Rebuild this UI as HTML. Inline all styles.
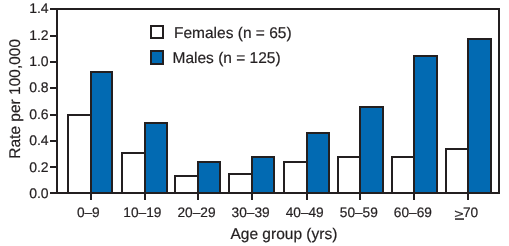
<!DOCTYPE html>
<html><head><meta charset="utf-8"><style>
html,body{margin:0;padding:0;background:#fff;}
svg{position:absolute;left:0;top:0;will-change:transform;}
text{font-family:"Liberation Sans",sans-serif;fill:#231f20;text-rendering:geometricPrecision;stroke:#231f20;stroke-width:0.2px;}
</style></head><body>
<svg width="509" height="246" viewBox="0 0 509 246">
<rect width="509" height="246" fill="#fff"/>
<rect x="68" y="115" width="23.00" height="78.00" fill="#fff" stroke="#231f20" stroke-width="2"/><rect x="91" y="72" width="21.00" height="121.00" fill="#026ab2" stroke="#231f20" stroke-width="2"/><rect x="122" y="153" width="23.00" height="40.00" fill="#fff" stroke="#231f20" stroke-width="2"/><rect x="145" y="123" width="22.00" height="70.00" fill="#026ab2" stroke="#231f20" stroke-width="2"/><rect x="175" y="176" width="23.00" height="17.00" fill="#fff" stroke="#231f20" stroke-width="2"/><rect x="198" y="162" width="22.00" height="31.00" fill="#026ab2" stroke="#231f20" stroke-width="2"/><rect x="229" y="174" width="23.00" height="19.00" fill="#fff" stroke="#231f20" stroke-width="2"/><rect x="252" y="157" width="22.00" height="36.00" fill="#026ab2" stroke="#231f20" stroke-width="2"/><rect x="284" y="162" width="23.00" height="31.00" fill="#fff" stroke="#231f20" stroke-width="2"/><rect x="307" y="133" width="22.00" height="60.00" fill="#026ab2" stroke="#231f20" stroke-width="2"/><rect x="338" y="157" width="22.00" height="36.00" fill="#fff" stroke="#231f20" stroke-width="2"/><rect x="360" y="107" width="23.00" height="86.00" fill="#026ab2" stroke="#231f20" stroke-width="2"/><rect x="392" y="157" width="22.00" height="36.00" fill="#fff" stroke="#231f20" stroke-width="2"/><rect x="414" y="56" width="23.00" height="137.00" fill="#026ab2" stroke="#231f20" stroke-width="2"/><rect x="446" y="149" width="22.00" height="44.00" fill="#fff" stroke="#231f20" stroke-width="2"/><rect x="468" y="39" width="23.00" height="154.00" fill="#026ab2" stroke="#231f20" stroke-width="2"/><path d="M50 9H500M57 8V194M499 8V194M50 193H500" stroke="#231f20" stroke-width="2" fill="none"/><path d="M50 9H57M50 36H57M50 62H57M50 88H57M50 115H57M50 141H57M50 167H57M50 193H57" stroke="#231f20" stroke-width="2" fill="none"/><path d="M91 193V200M145 193V200M198 193V200M252 193V200M307 193V200M360 193V200M414 193V200M468 193V200" stroke="#231f20" stroke-width="2" fill="none"/>
<text x="48.6" y="13.00" text-anchor="end" font-size="14">1.4</text><text x="48.6" y="40.00" text-anchor="end" font-size="14">1.2</text><text x="48.6" y="66.10" text-anchor="end" font-size="14">1.0</text><text x="48.6" y="92.00" text-anchor="end" font-size="14">0.8</text><text x="48.6" y="119.25" text-anchor="end" font-size="14">0.6</text><text x="48.6" y="145.00" text-anchor="end" font-size="14">0.4</text><text x="48.6" y="172.00" text-anchor="end" font-size="14">0.2</text><text x="48.6" y="198.00" text-anchor="end" font-size="14">0.0</text><text x="88.30" y="217.2" text-anchor="middle" font-size="13.7">0–9</text><text x="142.40" y="217.2" text-anchor="middle" font-size="13.7">10–19</text><text x="196.50" y="217.2" text-anchor="middle" font-size="13.7">20–29</text><text x="250.60" y="217.2" text-anchor="middle" font-size="13.7">30–39</text><text x="304.70" y="217.2" text-anchor="middle" font-size="13.7">40–49</text><text x="358.80" y="217.2" text-anchor="middle" font-size="13.7">50–59</text><text x="412.90" y="217.2" text-anchor="middle" font-size="13.7">60–69</text><text transform="translate(454.2 217.9) scale(1.29 1)" font-size="12.5">&gt;</text><text x="463.0" y="217.2" font-size="13.7">70</text><rect x="455" y="218.3" width="9" height="1.5" fill="#231f20"/><text x="283.9" y="239.3" text-anchor="middle" font-size="15.5">Age group (yrs)</text><text transform="translate(20.2 98.8) rotate(-90)" text-anchor="middle" font-size="15.5">Rate per 100,000</text><text x="174" y="38" font-size="15.5">Females (n = 65)</text><text x="172.5" y="63.2" font-size="15.5">Males (n = 125)</text><rect x="151" y="26" width="12" height="12" fill="#fff" stroke="#231f20" stroke-width="2"/><rect x="151" y="51" width="12" height="13" fill="#026ab2" stroke="#231f20" stroke-width="2"/>
</svg>
</body></html>
